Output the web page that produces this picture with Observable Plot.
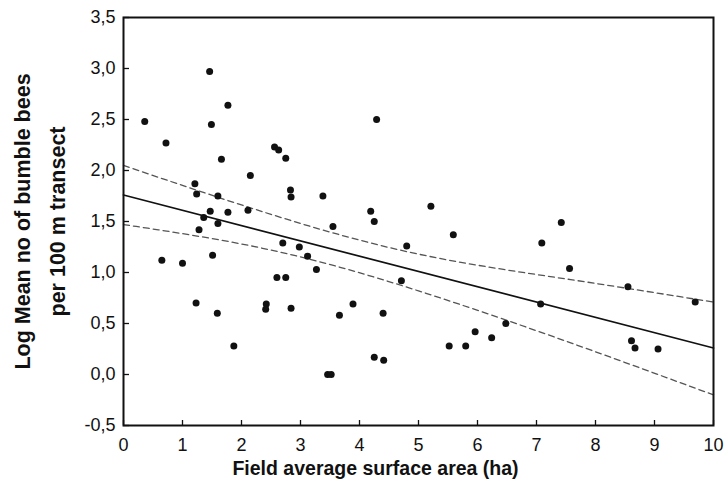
<!DOCTYPE html>
<html><head><meta charset="utf-8">
<script src="https://cdn.jsdelivr.net/npm/d3@7"></script>
<script src="https://cdn.jsdelivr.net/npm/@observablehq/plot@0.6"></script>
<style>body{margin:0;background:#fff}</style>
</head><body><div id="chart"></div>
<script>
// Field average surface area (ha)
const fieldArea = [0.36, 1.46, 1.77, 1.49, 0.72, 2.56, 2.63, 2.75, 1.66, 2.15,
  1.21, 1.24, 1.60, 2.83, 2.84, 3.38, 1.47, 1.77, 2.11, 1.36,
  1.60, 1.28, 0.65, 1.00, 1.51, 2.70, 2.98, 3.12, 3.27, 2.60,
  2.75, 1.23, 1.59, 2.42, 2.41, 2.84, 1.87, 4.29, 4.19, 4.25,
  5.21, 3.55, 5.59, 4.80, 4.71, 3.89, 3.66, 4.40, 4.25, 4.41,
  3.46, 3.52, 5.52, 5.80, 5.96, 6.24, 6.48, 7.42, 7.09, 7.56,
  7.07, 8.55, 9.69, 8.61, 8.67, 9.06];
// Log mean no of bumble bees per 100 m transect
const logBees = [2.48, 2.97, 2.64, 2.45, 2.27, 2.23, 2.20, 2.12, 2.11, 1.95,
  1.87, 1.77, 1.75, 1.81, 1.74, 1.75, 1.60, 1.59, 1.61, 1.54,
  1.48, 1.42, 1.12, 1.09, 1.17, 1.29, 1.25, 1.16, 1.03, 0.95,
  0.95, 0.70, 0.60, 0.69, 0.64, 0.65, 0.28, 2.50, 1.60, 1.50,
  1.65, 1.45, 1.37, 1.26, 0.92, 0.69, 0.58, 0.60, 0.17, 0.14,
  0.00, 0.00, 0.28, 0.28, 0.42, 0.36, 0.50, 1.49, 1.29, 1.04,
  0.69, 0.86, 0.71, 0.33, 0.26, 0.25];

const xTicks = [0, 1, 2, 3, 4, 5, 6, 7, 8, 9, 10];
const yTicks = [-0.5, 0, 0.5, 1, 1.5, 2, 2.5, 3, 3.5];

// fitted regression line
const fitX = [0, 10];
const fitY = [1.76, 0.26];
// confidence band
const bandX = [0, 2.5, 5, 7.58, 10];
const bandUpper = [2.05, 1.57, 1.18, 0.93, 0.71];
const bandLower = [1.47, 1.22, 0.82, 0.31, -0.20];

const xLabel = "Field average surface area (ha)";
const yLabel1 = "Log Mean no of bumble bees";
const yLabel2 = "per 100 m transect";

const points = fieldArea.map((x, i) => ({x, y: logBees[i]}));
const fit = fitX.map((x, i) => ({x, y: fitY[i]}));
const upper = bandX.map((x, i) => ({x, y: bandUpper[i]}));
const lower = bandX.map((x, i) => ({x, y: bandLower[i]}));

const fmtY = d => d.toFixed(1).replace(".", ",");
const font = "'Liberation Sans', Arial, Helvetica, sans-serif";

const chart = Plot.plot({
  width: 728,
  height: 491,
  marginLeft: 123,
  marginRight: 15,
  marginTop: 17,
  marginBottom: 66,
  style: {fontFamily: font, fontSize: "18px", color: "#111", background: "#fff"},
  x: {domain: [0, 10]},
  y: {domain: [-0.5, 3.5]},
  marks: [
    Plot.axisX(xTicks, {tickSize: 0, tickPadding: 13, label: null, fontSize: 18}),
    Plot.axisY(yTicks, {tickSize: 0, tickPadding: 8, label: null, tickFormat: fmtY, fontSize: 18}),
    Plot.tickX(xTicks, {x: d => d, insetTop: 403, stroke: "#111", strokeWidth: 1.3}),
    Plot.tickY(yTicks, {y: d => d, insetRight: 584, stroke: "#111", strokeWidth: 1.3}),
    Plot.line(upper, {x: "x", y: "y", curve: "natural", stroke: "#555", strokeWidth: 1.3, strokeDasharray: "6,4"}),
    Plot.line(lower, {x: "x", y: "y", curve: "natural", stroke: "#555", strokeWidth: 1.3, strokeDasharray: "6,4"}),
    Plot.line(fit, {x: "x", y: "y", stroke: "#111", strokeWidth: 1.7}),
    Plot.dot(points, {x: "x", y: "y", r: 3.5, fill: "#111", stroke: "none"}),
    Plot.frame({stroke: "#111", strokeWidth: 2}),
    Plot.text([xLabel], {frameAnchor: "bottom", textAnchor: "middle", dy: 43, dx: -43, fontSize: 19.5, fontWeight: "bold", lineAnchor: "middle", fill: "#111"}),
    Plot.text([yLabel1], {frameAnchor: "left", textAnchor: "middle", rotate: -90, dx: -100, fontSize: 21.5, fontWeight: "bold", lineAnchor: "middle", fill: "#111"}),
    Plot.text([yLabel2], {frameAnchor: "left", textAnchor: "middle", rotate: -90, dx: -65, fontSize: 21.5, fontWeight: "bold", lineAnchor: "middle", fill: "#111"})
  ]
});
document.getElementById("chart").appendChild(chart);
</script>
</body></html>
